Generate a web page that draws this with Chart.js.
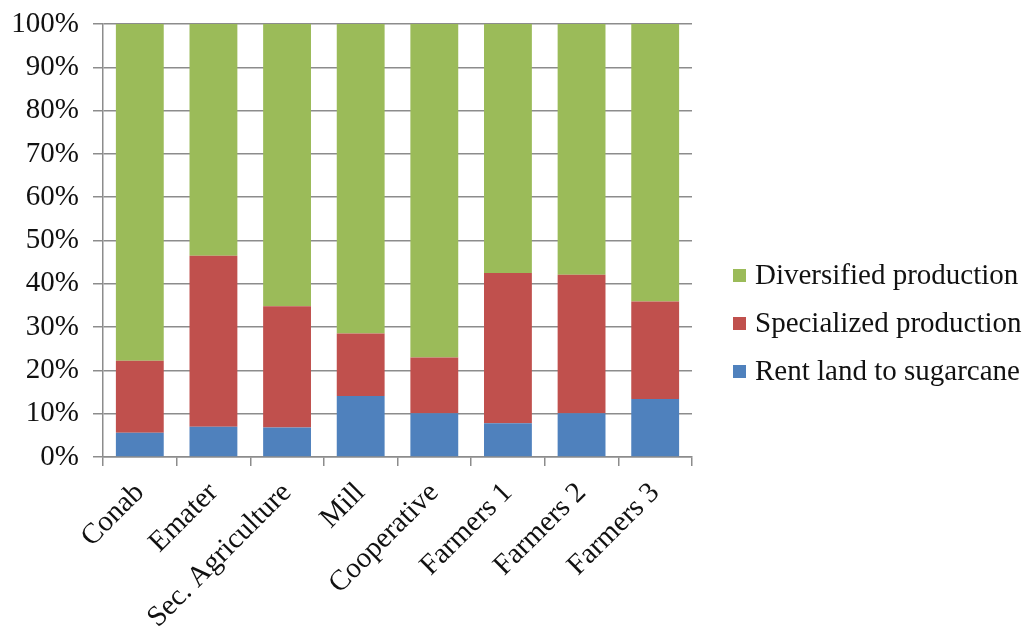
<!DOCTYPE html>
<html>
<head>
<meta charset="utf-8">
<script src="https://cdn.jsdelivr.net/npm/chart.js@4"></script>
<style>
  html, body { margin: 0; padding: 0; background: #fff; }
  #wrap { width: 1026px; height: 626px; }
</style>
</head>
<body>
<div id="wrap"><canvas id="chart" width="1026" height="626"></canvas></div>
<script>
// categories and shares (%)
var categories = ['Conab', 'Emater', 'Sec. Agriculture', 'Mill', 'Cooperative', 'Farmers 1', 'Farmers 2', 'Farmers 3'];
var rentLand    = [5.6, 7.0, 6.8, 14.1, 10.1, 7.8, 10.1, 13.4];
var specialized = [16.6, 39.5, 28.0, 14.4, 12.9, 34.7, 32.0, 22.5];
var diversified = [77.8, 53.5, 65.2, 71.5, 77.0, 57.5, 57.9, 64.1];
var yTicks = [0, 10, 20, 30, 40, 50, 60, 70, 80, 90, 100];

var serif = 'Liberation Serif, "Times New Roman", serif';
var fontSize = 29;
var gridGrey = '#8c8c8c';

// legend drawn by hand on the right, top entry = last dataset
var sideLegend = {
  id: 'sideLegend',
  afterDraw: function(chart) {
    var c = chart.ctx;
    var sets = chart.data.datasets.slice().reverse();
    c.save();
    c.font = fontSize + 'px ' + serif;
    c.textBaseline = 'middle';
    c.textAlign = 'left';
    sets.forEach(function(ds, i) {
      var cy = 276 + i * 48;
      c.fillStyle = ds.backgroundColor;
      c.fillRect(733, cy - 7, 13, 13);
      c.fillStyle = '#111';
      c.fillText(ds.label, 755, cy);
    });
    c.restore();
  }
};

var ctx = document.getElementById('chart').getContext('2d');
new Chart(ctx, {
  type: 'bar',
  data: {
    labels: categories,
    datasets: [
      { label: 'Rent land to sugarcane', data: rentLand, backgroundColor: '#4F81BD' },
      { label: 'Specialized production', data: specialized, backgroundColor: '#C0504D' },
      { label: 'Diversified production', data: diversified, backgroundColor: '#9BBB59' }
    ]
  },
  plugins: [sideLegend],
  options: {
    responsive: false,
    animation: false,
    layout: { padding: { top: 24, left: 0, right: 334, bottom: 0 } },
    datasets: { bar: { barPercentage: 0.65, categoryPercentage: 1.0 } },
    plugins: {
      legend: { display: false },
      tooltip: { enabled: false }
    },
    scales: {
      x: {
        stacked: true,
        afterFit: function(scale) { scale.height = 169; },
        grid: { offset: true, drawOnChartArea: false, color: gridGrey, lineWidth: 1.5, tickLength: 9 },
        border: { color: gridGrey, width: 1.5 },
        ticks: {
          color: '#111',
          font: { family: serif, size: fontSize },
          maxRotation: 45,
          minRotation: 45,
          autoSkip: false,
          padding: 10
        }
      },
      y: {
        stacked: true,
        min: 0,
        max: 100,
        afterBuildTicks: function(scale) {
          scale.ticks = yTicks.map(function(v) { return { value: v }; });
        },
        afterFit: function(scale) {
          scale.width = 103;
          scale.paddingTop = 0;
          scale.paddingBottom = 0;
        },
        grid: { color: gridGrey, lineWidth: 1.5, tickLength: 10 },
        border: { color: gridGrey, width: 1.5 },
        ticks: {
          color: '#111',
          padding: 14,
          font: { family: serif, size: fontSize },
          callback: function(v) { return v + '%'; }
        }
      }
    }
  }
});
</script>
</body>
</html>
